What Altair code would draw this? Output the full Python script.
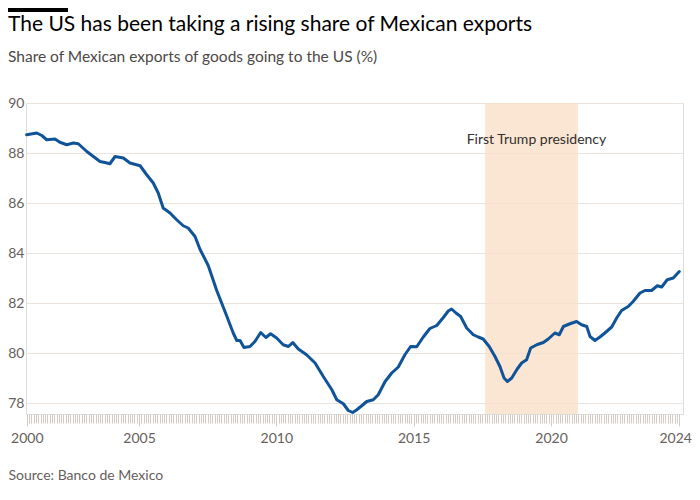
import altair as alt
import pandas as pd

# ---- data ----
years = [2000.91, 2001.28, 2001.46, 2001.64, 2001.94, 2002.12, 2002.37, 2002.61, 2002.79,
         2003.10, 2003.34, 2003.58, 2003.76, 2003.94, 2004.13, 2004.43, 2004.67, 2005.04,
         2005.28, 2005.52, 2005.70, 2005.88, 2006.13, 2006.37, 2006.61, 2006.79, 2007.04,
         2007.22, 2007.52, 2007.83, 2008.13, 2008.43, 2008.56, 2008.68, 2008.82, 2009.04,
         2009.22, 2009.43, 2009.62, 2009.79, 2010.01, 2010.25, 2010.44, 2010.60, 2010.80,
         2011.10, 2011.41, 2011.71, 2012.02, 2012.20, 2012.44, 2012.62, 2012.78, 2012.93,
         2013.11, 2013.29, 2013.53, 2013.71, 2013.96, 2014.20, 2014.44, 2014.68, 2014.89,
         2015.11, 2015.35, 2015.59, 2015.84, 2016.08, 2016.26, 2016.38, 2016.54, 2016.71,
         2016.93, 2017.17, 2017.35, 2017.53, 2017.75, 2017.96, 2018.14, 2018.29, 2018.41,
         2018.57, 2018.77, 2018.93, 2019.11, 2019.26, 2019.48, 2019.72, 2019.90, 2020.14,
         2020.30, 2020.45, 2020.69, 2020.93, 2021.11, 2021.30, 2021.42, 2021.60, 2021.78,
         2021.96, 2022.21, 2022.39, 2022.57, 2022.81, 2022.99, 2023.24, 2023.42, 2023.66,
         2023.87, 2024.03, 2024.23, 2024.45, 2024.67]
share = [88.73, 88.80, 88.70, 88.53, 88.56, 88.43, 88.33, 88.40, 88.37,
         88.06, 87.86, 87.66, 87.62, 87.57, 87.86, 87.80, 87.60, 87.49,
         87.13, 86.80, 86.40, 85.80, 85.60, 85.33, 85.09, 85.00, 84.66,
         84.15, 83.50, 82.50, 81.66, 80.80, 80.50, 80.50, 80.22, 80.26,
         80.46, 80.82, 80.62, 80.77, 80.60, 80.33, 80.26, 80.42, 80.16,
         79.93, 79.60, 79.06, 78.53, 78.13, 77.97, 77.70, 77.62, 77.73,
         77.89, 78.06, 78.13, 78.33, 78.86, 79.20, 79.44, 79.93, 80.26,
         80.25, 80.64, 80.98, 81.10, 81.42, 81.68, 81.76, 81.60, 81.46,
         81.00, 80.73, 80.64, 80.56, 80.26, 79.86, 79.46, 79.00, 78.86,
         79.00, 79.36, 79.60, 79.73, 80.20, 80.33, 80.42, 80.56, 80.80,
         80.73, 81.06, 81.17, 81.26, 81.13, 81.06, 80.66, 80.50, 80.64,
         80.80, 81.04, 81.40, 81.70, 81.86, 82.06, 82.40, 82.50, 82.50,
         82.69, 82.64, 82.93, 83.00, 83.26]

band_start = [2017.60]
band_end = [2020.98]

label_text = ["First Trump presidency"]
label_x = [2019.47]
label_y = [88.53]

x_domain = [2000.886, 2024.805]
y_domain = [77.56, 90]
y_ticks = [78, 80, 82, 84, 86, 88, 90]
year_ticks = [2000.917, 2005, 2010, 2015, 2020, 2024.667]
month_ticks = [round(2000 + 11 / 12 + k / 12, 4) for k in range(286)]

FONT = "Lato"
LABEL_COLOR = "#66605c"
TICK_COLOR = "#d3ccc6"

line_df = pd.DataFrame({"t": years, "v": share})
band_df = pd.DataFrame({"start": band_start, "end": band_end})
label_df = pd.DataFrame({"label": label_text, "x": label_x, "y": label_y})

xscale = alt.Scale(domain=x_domain, nice=False, zero=False)
yscale = alt.Scale(domain=y_domain, nice=False, zero=False)

yaxis = alt.Axis(values=y_ticks, grid=True, gridColor="#ebe4de",
                 gridWidth=1, ticks=False, tickSize=0, domain=False,
                 labelFont=FONT, labelFontSize=14, labelColor=LABEL_COLOR,
                 labelPadding=2, title=None)

band = alt.Chart(band_df).mark_rect(color="#f9dcc4", opacity=0.72).encode(
    x=alt.X("start:Q", scale=xscale,
            axis=alt.Axis(values=month_ticks, labels=False, tickSize=9,
                          tickColor=TICK_COLOR, tickWidth=1, domain=False,
                          grid=False, title=None, orient="bottom")),
    x2="end:Q",
)

line = alt.Chart(line_df).mark_line(color="#0f5499", strokeWidth=3,
                                    strokeJoin="round", strokeCap="round").encode(
    x=alt.X("t:Q", scale=xscale,
            axis=alt.Axis(values=year_ticks, tickSize=12, tickColor=TICK_COLOR,
                          tickWidth=1, domain=False, grid=False,
                          labelExpr="datum.value < 2001 ? '2000' : (datum.value > 2024 ? '2024' : format(datum.value, 'd'))",
                          labelOverlap=False, labelFlush=False,
                          labelOffset={"condition": {"test": "datum.value > 2024", "value": -4}, "value": 0},
                          labelFont=FONT, labelFontSize=14, labelColor=LABEL_COLOR,
                          labelPadding=5, orient="bottom",
                          title="Source: Banco de Mexico", titleX=-18, titleY=61,
                          titleAlign="left", titleBaseline="middle",
                          titleFont=FONT, titleFontSize=14, titleFontWeight="normal",
                          titleColor=LABEL_COLOR)),
    y=alt.Y("v:Q", scale=yscale, axis=yaxis),
)

text = alt.Chart(label_df).mark_text(font=FONT, fontSize=14, color="#33302e",
                                     align="center", baseline="middle").encode(
    x=alt.X("x:Q", scale=xscale, axis=None),
    y=alt.Y("y:Q", scale=yscale, axis=yaxis),
    text="label:N",
)

brand = alt.Chart(alt.Data(values=[{}])).mark_rule(color="#000000", strokeWidth=4).encode(
    x=alt.value(-18), x2=alt.value(42), y=alt.value(-93)
)

chart = alt.layer(band, line, text, brand).resolve_axis(x="independent").properties(
    width=657,
    height=311,
    autosize=alt.AutoSizeParams(type="none"),
    padding={"left": 18, "top": 95, "right": 9, "bottom": 76},
    title=alt.TitleParams(
        text="The US has been taking a rising share of Mexican exports",
        subtitle="Share of Mexican exports of goods going to the US (%)",
        anchor="start", frame="group", dx=-18, dy=57, offset=0,
        font=FONT, fontSize=21, fontWeight="normal", color="#000000",
        subtitleFont=FONT, subtitleFontSize=15.5, subtitleColor="#4d4845",
        subtitlePadding=15,
    ),
).configure_view(stroke=None).configure(background="#ffffff")

chart.save("out.html", embed_options={"renderer": "svg", "actions": False})
